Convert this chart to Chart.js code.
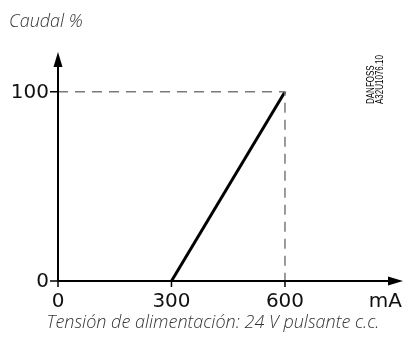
<!DOCTYPE html>
<html>
<head>
<meta charset="utf-8">
<script src="https://cdn.jsdelivr.net/npm/chart.js@4/dist/chart.umd.min.js"></script>
<style>
  html, body { margin: 0; padding: 0; background: #fff; }
  #wrap { width: 405px; height: 340px; position: relative; }
</style>
</head>
<body>
<div id="wrap"><canvas id="chFlow"></canvas></div>
<script>
// Caudal vs. corriente (actuador 24 V pulsante c.c.)

const currentMA = [300, 600];      // mA
const flowPct = [0, 100];          // %
const guideX = [0, 600, 600];      // guía discontinua hasta el 100 %
const guideY = [100, 100, 0];
const xTicks = [0, 300, 600];
const yTicks = [0, 100];
const xUnit = 'mA';
const yTitle = 'Caudal %';
const caption = 'Tensión de alimentación: 24 V pulsante c.c.';
const docRef = ['DANFOSS', 'A32U1076.10'];

const toPoints = (xs, ys) => xs.map((x, i) => ({ x: x, y: ys[i] }));

const NUM_FONT = '20px "DejaVu Sans"';

// axes with arrowheads, ticks and all labels, drawn from the chart scales
const axesPlugin = {
    id: 'arrowAxes',
    afterDraw(chart) {
        const ctx = chart.ctx;
        const xs = chart.scales.x;
        const ys = chart.scales.y;
        const x0 = xs.getPixelForValue(0);
        const y0 = ys.getPixelForValue(0);
        const right = chart.chartArea.right;
        const top = chart.chartArea.top;

        ctx.save();
        ctx.strokeStyle = '#000';
        ctx.fillStyle = '#000';
        ctx.lineWidth = 2;

        // axis lines
        ctx.beginPath();
        ctx.moveTo(x0, y0);
        ctx.lineTo(right - 10, y0);
        ctx.moveTo(x0, y0);
        ctx.lineTo(x0, top + 10);
        ctx.stroke();

        // arrowheads
        ctx.beginPath();
        ctx.moveTo(right, y0);
        ctx.lineTo(right - 15, y0 - 4.5);
        ctx.lineTo(right - 15, y0 + 4.5);
        ctx.closePath();
        ctx.fill();
        ctx.beginPath();
        ctx.moveTo(x0, top);
        ctx.lineTo(x0 - 4.5, top + 15);
        ctx.lineTo(x0 + 4.5, top + 15);
        ctx.closePath();
        ctx.fill();

        // tick marks
        ctx.lineWidth = 1.5;
        ctx.beginPath();
        xTicks.forEach(v => {
            const px = xs.getPixelForValue(v);
            ctx.moveTo(px, y0);
            ctx.lineTo(px, y0 + 6);
        });
        yTicks.forEach(v => {
            const py = ys.getPixelForValue(v);
            ctx.moveTo(x0 - 8, py);
            ctx.lineTo(x0, py);
        });
        ctx.stroke();

        // tick labels
        ctx.font = NUM_FONT;
        ctx.fillStyle = '#111';
        ctx.textAlign = 'center';
        ctx.textBaseline = 'alphabetic';
        xTicks.forEach(v => {
            ctx.fillText(String(v), xs.getPixelForValue(v), y0 + 26);
        });
        ctx.textAlign = 'right';
        ctx.fillText(xUnit, right - 1, y0 + 26);
        ctx.textBaseline = 'middle';
        yTicks.forEach(v => {
            ctx.fillText(String(v), x0 - 9, ys.getPixelForValue(v) + 1);
        });

        // axis title and caption
        ctx.fillStyle = '#333';
        ctx.textBaseline = 'alphabetic';
        ctx.textAlign = 'left';
        ctx.font = 'italic 300 18px "Open Sans"';
        ctx.fillText(yTitle, 9, 27);
        ctx.textAlign = 'center';
        ctx.fillText(caption, 213, 328);

        // drawing reference, rotated and condensed
        ctx.fillStyle = '#000';
        ctx.font = '10px "Liberation Sans"';
        ctx.textAlign = 'left';
        ctx.translate(375, 104);
        ctx.rotate(-Math.PI / 2);
        ctx.scale(0.8, 1);
        ctx.fillText(docRef[0], 0, -1);
        ctx.fillText(docRef[1], 0, 8);
        ctx.restore();
    }
};

new Chart(document.getElementById('chFlow').getContext('2d'), {
    type: 'scatter',
    data: {
        datasets: [
            {
                label: 'guía',
                data: toPoints(guideX, guideY),
                showLine: true,
                borderColor: '#7a7a7a',
                borderWidth: 1.5,
                borderDash: [10, 7],
                pointRadius: 0,
                fill: false
            },
            {
                label: 'Caudal',
                data: toPoints(currentMA, flowPct),
                showLine: true,
                borderColor: '#000',
                borderWidth: 3,
                pointRadius: 0,
                fill: false
            }
        ]
    },
    options: {
        responsive: true,
        maintainAspectRatio: false,
        animation: false,
        layout: { padding: { left: 58, right: 2, top: 52, bottom: 59 } },
        scales: {
            x: { type: 'linear', min: 0, max: 912, display: false },
            y: { type: 'linear', min: 0, max: 121, display: false }
        },
        plugins: {
            legend: { display: false },
            tooltip: { enabled: false }
        }
    },
    plugins: [axesPlugin]
});
</script>
</body>
</html>
